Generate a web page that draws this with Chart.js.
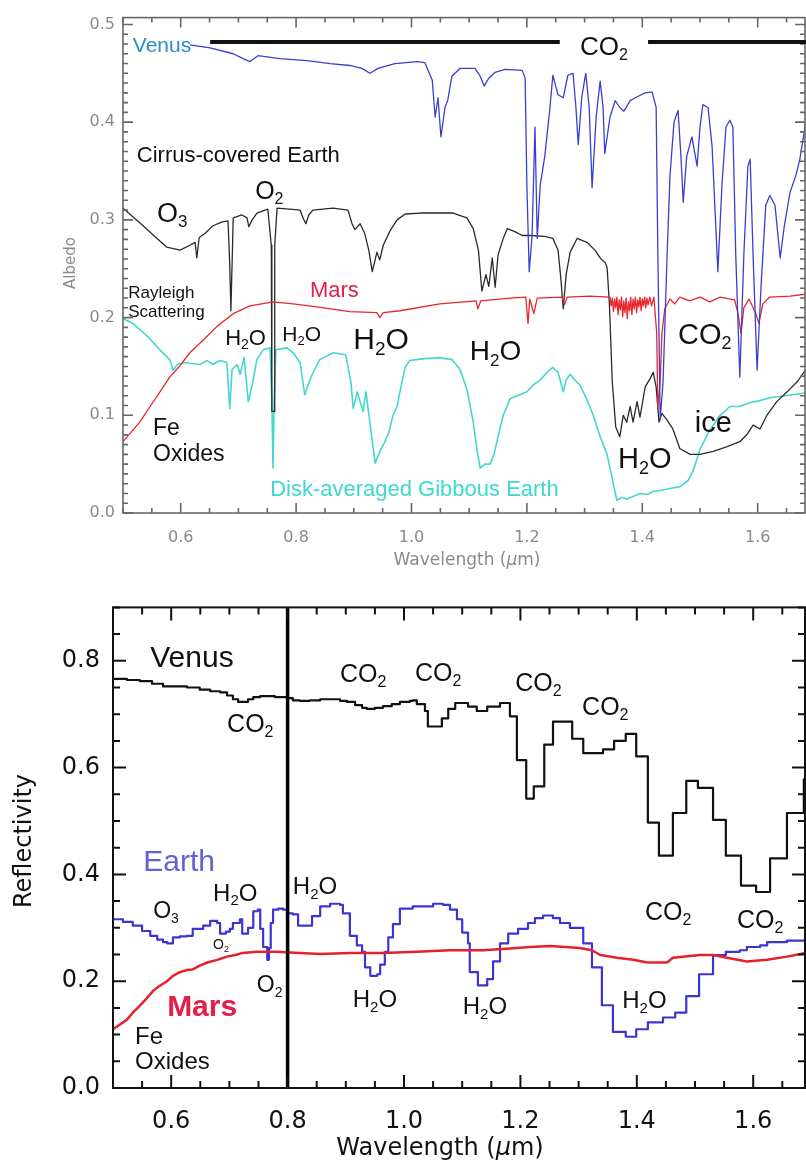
<!DOCTYPE html>
<html>
<head>
<meta charset="utf-8">
<script src="https://cdn.jsdelivr.net/npm/chart.js@4.4.0/dist/chart.umd.min.js"></script>
<style>
  html, body { margin: 0; padding: 0; background: #fff; }
  #wrap { position: relative; width: 806px; height: 1170px; overflow: hidden; }
  .panel { position: absolute; left: 0; width: 806px; }
</style>
</head>
<body>
<div id="wrap">
  <div class="panel" style="top:0;height:580px"><canvas id="topChart" width="806" height="580"></canvas></div>
  <div class="panel" style="top:580px;height:590px"><canvas id="lowChart" width="806" height="590"></canvas></div>
</div>
<script>
// ---- upper panel: high resolution albedo spectra, [wavelength um, albedo] ----
const venusTop = [[0.616,0.479],[0.628,0.478],[0.651,0.476],[0.691,0.470],[0.708,0.465],[0.720,0.462],[0.734,0.468],[0.772,0.465],[0.819,0.463],[0.859,0.460],[0.893,0.458],[0.914,0.455],[0.928,0.450],[0.942,0.455],[0.971,0.460],[1.010,0.462],[1.023,0.461],[1.036,0.443],[1.041,0.405],[1.046,0.425],[1.051,0.385],[1.058,0.415],[1.063,0.423],[1.070,0.447],[1.084,0.455],[1.110,0.455],[1.119,0.447],[1.126,0.437],[1.134,0.445],[1.145,0.451],[1.162,0.454],[1.192,0.453],[1.197,0.445],[1.200,0.335],[1.204,0.247],[1.209,0.284],[1.214,0.395],[1.218,0.281],[1.223,0.335],[1.231,0.365],[1.240,0.415],[1.245,0.448],[1.254,0.428],[1.263,0.425],[1.271,0.448],[1.280,0.450],[1.285,0.415],[1.289,0.377],[1.295,0.425],[1.302,0.450],[1.308,0.415],[1.313,0.333],[1.320,0.405],[1.327,0.442],[1.332,0.415],[1.335,0.368],[1.344,0.405],[1.353,0.422],[1.361,0.415],[1.368,0.411],[1.379,0.422],[1.391,0.426],[1.405,0.430],[1.417,0.431],[1.424,0.415],[1.427,0.264],[1.431,0.096],[1.436,0.134],[1.443,0.264],[1.448,0.345],[1.455,0.400],[1.462,0.412],[1.467,0.365],[1.471,0.318],[1.477,0.365],[1.486,0.385],[1.495,0.355],[1.500,0.395],[1.505,0.418],[1.514,0.415],[1.521,0.375],[1.531,0.247],[1.538,0.335],[1.545,0.395],[1.552,0.402],[1.557,0.395],[1.562,0.264],[1.569,0.139],[1.576,0.264],[1.583,0.355],[1.587,0.362],[1.592,0.264],[1.599,0.146],[1.606,0.234],[1.614,0.315],[1.621,0.325],[1.630,0.315],[1.639,0.261],[1.646,0.293],[1.656,0.328],[1.666,0.345],[1.673,0.362],[1.684,0.402]];

const cirrusEarthTop = [[0.500,0.312],[0.529,0.297],[0.559,0.281],[0.576,0.272],[0.599,0.269],[0.616,0.274],[0.625,0.277],[0.628,0.261],[0.632,0.282],[0.642,0.286],[0.656,0.294],[0.672,0.298],[0.682,0.299],[0.685,0.254],[0.687,0.207],[0.689,0.254],[0.691,0.302],[0.706,0.305],[0.715,0.302],[0.718,0.293],[0.724,0.300],[0.732,0.307],[0.751,0.311],[0.757,0.274],[0.758,0.104],[0.762,0.104],[0.763,0.274],[0.767,0.312],[0.789,0.311],[0.807,0.310],[0.812,0.302],[0.817,0.296],[0.822,0.305],[0.829,0.310],[0.864,0.312],[0.890,0.310],[0.897,0.296],[0.902,0.290],[0.911,0.296],[0.919,0.286],[0.926,0.269],[0.932,0.247],[0.937,0.259],[0.940,0.267],[0.945,0.259],[0.951,0.274],[0.963,0.289],[0.975,0.300],[0.989,0.306],[1.015,0.307],[1.072,0.307],[1.096,0.302],[1.107,0.291],[1.116,0.269],[1.122,0.227],[1.129,0.244],[1.134,0.232],[1.140,0.261],[1.145,0.231],[1.150,0.264],[1.159,0.281],[1.166,0.291],[1.179,0.288],[1.192,0.284],[1.205,0.284],[1.231,0.283],[1.245,0.281],[1.254,0.269],[1.259,0.239],[1.263,0.209],[1.268,0.244],[1.275,0.267],[1.287,0.281],[1.304,0.277],[1.318,0.269],[1.327,0.261],[1.336,0.256],[1.339,0.251],[1.343,0.214],[1.348,0.134],[1.354,0.088],[1.361,0.078],[1.367,0.100],[1.373,0.093],[1.379,0.109],[1.384,0.093],[1.391,0.114],[1.396,0.098],[1.405,0.129],[1.413,0.137],[1.419,0.144],[1.424,0.129],[1.429,0.093],[1.434,0.102],[1.443,0.095],[1.453,0.086],[1.465,0.066],[1.483,0.060],[1.500,0.060],[1.523,0.063],[1.547,0.068],[1.569,0.073],[1.581,0.080],[1.592,0.090],[1.604,0.086],[1.616,0.100],[1.633,0.114],[1.651,0.124],[1.668,0.134],[1.684,0.147]];

const marsTop = [[0.500,0.073],[0.529,0.093],[0.547,0.109],[0.564,0.124],[0.581,0.139],[0.599,0.151],[0.616,0.164],[0.639,0.177],[0.663,0.191],[0.691,0.204],[0.720,0.212],[0.760,0.216],[0.795,0.214],[0.836,0.211],[0.893,0.206],[0.940,0.205],[0.945,0.200],[0.951,0.205],[0.980,0.207],[1.049,0.214],[1.112,0.217],[1.115,0.209],[1.120,0.217],[1.171,0.220],[1.198,0.221],[1.202,0.194],[1.205,0.219],[1.212,0.204],[1.218,0.220],[1.261,0.221],[1.265,0.213],[1.270,0.221],[1.309,0.222],[1.344,0.221],[1.346,0.212],[1.348,0.220],[1.350,0.206],[1.352,0.219],[1.354,0.210],[1.356,0.221],[1.358,0.203],[1.360,0.218],[1.362,0.208],[1.364,0.221],[1.366,0.201],[1.368,0.217],[1.370,0.205],[1.372,0.220],[1.374,0.199],[1.376,0.216],[1.378,0.207],[1.380,0.221],[1.382,0.203],[1.384,0.219],[1.386,0.209],[1.388,0.221],[1.390,0.205],[1.392,0.218],[1.394,0.211],[1.396,0.221],[1.398,0.207],[1.400,0.219],[1.402,0.212],[1.404,0.221],[1.406,0.210],[1.408,0.220],[1.410,0.213],[1.413,0.221],[1.416,0.212],[1.420,0.221],[1.425,0.184],[1.427,0.107],[1.431,0.134],[1.434,0.184],[1.439,0.209],[1.448,0.219],[1.456,0.214],[1.465,0.221],[1.482,0.217],[1.500,0.221],[1.517,0.216],[1.535,0.221],[1.560,0.218],[1.566,0.204],[1.571,0.184],[1.576,0.210],[1.585,0.219],[1.597,0.204],[1.602,0.194],[1.609,0.214],[1.621,0.221],[1.656,0.222],[1.684,0.224]];

const gibbousEarthTop = [[0.500,0.199],[0.517,0.194],[0.542,0.181],[0.564,0.167],[0.581,0.157],[0.587,0.146],[0.594,0.152],[0.607,0.154],[0.633,0.152],[0.646,0.156],[0.656,0.152],[0.668,0.156],[0.680,0.154],[0.685,0.107],[0.689,0.147],[0.698,0.152],[0.703,0.142],[0.710,0.159],[0.717,0.114],[0.724,0.131],[0.732,0.157],[0.743,0.167],[0.755,0.169],[0.758,0.114],[0.760,0.046],[0.762,0.114],[0.765,0.167],[0.784,0.169],[0.795,0.164],[0.807,0.154],[0.815,0.121],[0.822,0.133],[0.828,0.142],[0.841,0.157],[0.864,0.164],[0.886,0.162],[0.895,0.134],[0.899,0.107],[0.906,0.124],[0.911,0.114],[0.916,0.104],[0.921,0.124],[0.930,0.083],[0.937,0.051],[0.945,0.063],[0.954,0.073],[0.961,0.083],[0.968,0.100],[0.975,0.109],[0.980,0.124],[0.989,0.149],[0.997,0.156],[1.023,0.158],[1.049,0.159],[1.070,0.157],[1.084,0.147],[1.096,0.127],[1.107,0.093],[1.114,0.063],[1.119,0.046],[1.127,0.050],[1.136,0.050],[1.143,0.060],[1.148,0.073],[1.159,0.100],[1.171,0.117],[1.179,0.119],[1.188,0.121],[1.200,0.124],[1.211,0.131],[1.223,0.136],[1.235,0.144],[1.245,0.149],[1.254,0.144],[1.263,0.124],[1.268,0.136],[1.275,0.142],[1.283,0.136],[1.292,0.131],[1.304,0.116],[1.315,0.100],[1.327,0.078],[1.339,0.060],[1.348,0.035],[1.356,0.013],[1.365,0.016],[1.373,0.014],[1.384,0.017],[1.396,0.020],[1.408,0.019],[1.419,0.022],[1.431,0.023],[1.448,0.025],[1.465,0.027],[1.479,0.033],[1.488,0.043],[1.500,0.065],[1.517,0.085],[1.535,0.100],[1.552,0.109],[1.569,0.109],[1.587,0.113],[1.604,0.115],[1.621,0.118],[1.647,0.120],[1.684,0.123]];

// ---- lower panel: binned reflectivity, [bin start um, reflectivity] ----
const venusLow = [[0.500,0.766],[0.524,0.764],[0.546,0.762],[0.567,0.757],[0.586,0.752],[0.607,0.752],[0.627,0.750],[0.649,0.746],[0.667,0.743],[0.684,0.741],[0.696,0.735],[0.706,0.728],[0.715,0.723],[0.723,0.723],[0.732,0.728],[0.741,0.732],[0.753,0.734],[0.765,0.734],[0.778,0.732],[0.799,0.730],[0.809,0.726],[0.821,0.725],[0.838,0.726],[0.856,0.728],[0.878,0.728],[0.890,0.725],[0.902,0.723],[0.916,0.717],[0.928,0.712],[0.936,0.710],[0.950,0.712],[0.964,0.715],[0.979,0.719],[0.993,0.723],[1.010,0.725],[1.015,0.726],[1.022,0.719],[1.036,0.706],[1.041,0.677],[1.065,0.692],[1.076,0.710],[1.088,0.721],[1.110,0.714],[1.125,0.706],[1.143,0.714],[1.165,0.721],[1.182,0.696],[1.194,0.614],[1.210,0.542],[1.223,0.565],[1.241,0.643],[1.256,0.686],[1.289,0.654],[1.308,0.627],[1.342,0.634],[1.361,0.650],[1.381,0.663],[1.399,0.621],[1.419,0.497],[1.438,0.435],[1.462,0.515],[1.485,0.575],[1.505,0.562],[1.531,0.502],[1.553,0.435],[1.579,0.379],[1.605,0.367],[1.629,0.430],[1.658,0.515],[1.687,0.578],[1.700,0.578]];

const earthLow = [[0.500,0.316],[0.517,0.311],[0.534,0.304],[0.550,0.294],[0.564,0.285],[0.576,0.278],[0.586,0.273],[0.593,0.271],[0.603,0.282],[0.615,0.284],[0.627,0.285],[0.637,0.298],[0.655,0.304],[0.667,0.313],[0.679,0.309],[0.684,0.289],[0.694,0.293],[0.701,0.298],[0.706,0.309],[0.718,0.316],[0.722,0.289],[0.732,0.300],[0.741,0.331],[0.749,0.334],[0.753,0.298],[0.758,0.264],[0.765,0.240],[0.768,0.262],[0.771,0.309],[0.775,0.334],[0.784,0.336],[0.792,0.334],[0.799,0.327],[0.809,0.325],[0.818,0.304],[0.830,0.304],[0.842,0.322],[0.856,0.340],[0.873,0.345],[0.890,0.343],[0.895,0.327],[0.907,0.285],[0.919,0.267],[0.928,0.255],[0.933,0.226],[0.942,0.210],[0.954,0.213],[0.959,0.231],[0.967,0.255],[0.973,0.282],[0.981,0.307],[0.993,0.336],[1.015,0.340],[1.050,0.345],[1.067,0.343],[1.079,0.334],[1.091,0.316],[1.100,0.291],[1.110,0.271],[1.113,0.217],[1.127,0.192],[1.143,0.204],[1.153,0.237],[1.165,0.271],[1.179,0.289],[1.196,0.298],[1.213,0.309],[1.225,0.318],[1.239,0.323],[1.256,0.318],[1.268,0.309],[1.285,0.300],[1.308,0.271],[1.323,0.226],[1.340,0.155],[1.359,0.105],[1.381,0.096],[1.399,0.110],[1.419,0.123],[1.445,0.132],[1.466,0.141],[1.485,0.172],[1.507,0.213],[1.531,0.249],[1.553,0.255],[1.577,0.258],[1.589,0.264],[1.612,0.267],[1.624,0.273],[1.658,0.276],[1.691,0.280],[1.700,0.280]];

const marsLow = [[0.500,0.110],[0.512,0.119],[0.524,0.128],[0.534,0.141],[0.546,0.154],[0.558,0.168],[0.569,0.182],[0.581,0.192],[0.593,0.200],[0.603,0.210],[0.615,0.217],[0.627,0.221],[0.637,0.222],[0.649,0.229],[0.662,0.235],[0.679,0.240],[0.696,0.246],[0.710,0.249],[0.723,0.253],[0.747,0.255],[0.782,0.255],[0.821,0.253],[0.856,0.251],[0.907,0.253],[0.964,0.253],[1.022,0.255],[1.079,0.258],[1.136,0.258],[1.194,0.262],[1.216,0.264],[1.251,0.266],[1.277,0.264],[1.302,0.262],[1.323,0.258],[1.337,0.249],[1.366,0.244],[1.394,0.240],[1.418,0.235],[1.452,0.235],[1.462,0.244],[1.509,0.249],[1.531,0.249],[1.555,0.244],[1.589,0.237],[1.624,0.240],[1.658,0.246],[1.691,0.253]];

// axis tick labels
const topXTicks = [0.6, 0.8, 1.0, 1.2, 1.4, 1.6];
const topYTicks = [0.0, 0.1, 0.2, 0.3, 0.4, 0.5];
const lowXTicks = [0.6, 0.8, 1.0, 1.2, 1.4, 1.6];
const lowYTicks = [0.0, 0.2, 0.4, 0.6, 0.8];

// Venus CO2 band bar (wavelength ranges) and the reference wavelength line
const co2Bar = [[0.651, 1.257], [1.410, 1.70]];
const co2BarLevel = 0.482;
const refWavelength = 0.8;

// band / planet labels: [text, wavelength, value, size, colour, weight]
const topNotes = [
  ['Venus', 0.517, 0.480, 21, '#2a8cd0', 'normal'],
  ['CO2', 1.292, 0.478, 26, '#111', 'normal'],
  ['Cirrus-covered Earth', 0.524, 0.367, 22, '#111', 'normal'],
  ['O3', 0.559, 0.308, 27, '#111', 'normal'],
  ['O2', 0.729, 0.331, 25, '#111', 'normal'],
  ['Rayleigh', 0.509, 0.226, 17, '#111', 'normal'],
  ['Scattering', 0.509, 0.207, 17, '#111', 'normal'],
  ['Mars', 0.824, 0.229, 22, '#e0204a', 'normal'],
  ['H2O', 0.677, 0.180, 22, '#111', 'normal'],
  ['H2O', 0.776, 0.184, 21, '#111', 'normal'],
  ['H2O', 0.899, 0.179, 30, '#111', 'normal'],
  ['H2O', 1.101, 0.167, 28, '#111', 'normal'],
  ['CO2', 1.462, 0.184, 29, '#111', 'normal'],
  ['ice', 1.491, 0.094, 29, '#111', 'normal'],
  ['H2O', 1.358, 0.057, 29, '#111', 'normal'],
  ['Fe', 0.552, 0.088, 23, '#111', 'normal'],
  ['Oxides', 0.552, 0.062, 23, '#111', 'normal'],
  ['Disk-averaged Gibbous Earth', 0.755, 0.025, 22, '#3dd9cc', 'normal']
];
const lowNotes = [
  ['Venus', 0.564, 0.808, 30, '#111', 'normal'],
  ['CO2', 0.696, 0.683, 25, '#111', 'normal'],
  ['CO2', 0.890, 0.777, 25, '#111', 'normal'],
  ['CO2', 1.019, 0.779, 25, '#111', 'normal'],
  ['CO2', 1.191, 0.761, 25, '#111', 'normal'],
  ['CO2', 1.306, 0.715, 25, '#111', 'normal'],
  ['Earth', 0.552, 0.426, 30, '#6262d8', 'normal'],
  ['H2O', 0.672, 0.367, 24, '#111', 'normal'],
  ['H2O', 0.809, 0.379, 24, '#111', 'normal'],
  ['O3', 0.569, 0.334, 23, '#111', 'normal'],
  ['O2', 0.672, 0.269, 14, '#111', 'normal'],
  ['O2', 0.747, 0.195, 23, '#111', 'normal'],
  ['Mars', 0.593, 0.155, 30, '#e3204a', 'bold'],
  ['Fe', 0.538, 0.099, 24, '#111', 'normal'],
  ['Oxides', 0.538, 0.051, 24, '#111', 'normal'],
  ['H2O', 0.912, 0.168, 24, '#111', 'normal'],
  ['H2O', 1.101, 0.154, 24, '#111', 'normal'],
  ['H2O', 1.375, 0.166, 24, '#111', 'normal'],
  ['CO2', 1.414, 0.331, 25, '#111', 'normal'],
  ['CO2', 1.572, 0.316, 25, '#111', 'normal']
];

const SANS = '"Liberation Sans", Arial, sans-serif';
const AXIS = '"DejaVu Sans", sans-serif';

const pts = arr => arr.map(([x, y]) => ({ x, y }));

// formula text with subscripted digits (H2O, CO2 ...), y is the cap-height centre
function chem(ctx, text, x, y, size, color, weight) {
  ctx.fillStyle = color;
  ctx.textAlign = 'left';
  ctx.textBaseline = 'alphabetic';
  const base = y + size * 0.36;
  let cx = x;
  for (const part of text.match(/\d+|\D+/g)) {
    const sub = /^\d+$/.test(part);
    ctx.font = `${weight} ${sub ? Math.round(size * 0.62) : size}px ${SANS}`;
    ctx.fillText(part, cx, sub ? base + size * 0.2 : base);
    cx += ctx.measureText(part).width;
  }
}

// "Wavelength (um)" with an italic mu
function wavelengthTitle(ctx, cx, cy, size, color) {
  const parts = [['Wavelength (', 'normal'], ['\u03bc', 'italic'], ['m)', 'normal']];
  let w = 0;
  parts.forEach(([t, st]) => { ctx.font = `${st} ${size}px ${AXIS}`; w += ctx.measureText(t).width; });
  let x = cx - w / 2;
  ctx.fillStyle = color;
  ctx.textAlign = 'left';
  ctx.textBaseline = 'middle';
  parts.forEach(([t, st]) => {
    ctx.font = `${st} ${size}px ${AXIS}`;
    ctx.fillText(t, x, cy);
    x += ctx.measureText(t).width;
  });
}

// closed frame with inward minor/major ticks on all four sides
function frameTicks(o) {
  return {
    id: 'frameTicks',
    afterDatasetsDraw(chart) {
      const { ctx, chartArea: a, scales: { x, y } } = chart;
      const each = (min, max, step, fn) => {
        for (let i = Math.ceil(min / step - 1e-6); i * step <= max + 1e-9; i++) fn(+(i * step).toFixed(4));
      };
      const major = (v, m) => Math.abs(v / m - Math.round(v / m)) < 1e-6;
      ctx.save();
      ctx.strokeStyle = o.color;
      ctx.lineWidth = o.width;
      ctx.strokeRect(a.left, a.top, a.right - a.left, a.bottom - a.top);
      ctx.beginPath();
      each(x.min, x.max, o.xMinor, v => {
        const px = x.getPixelForValue(v);
        const len = major(v, o.xMajor) ? o.major : o.minor;
        ctx.moveTo(px, a.bottom); ctx.lineTo(px, a.bottom - len);
        ctx.moveTo(px, a.top); ctx.lineTo(px, a.top + len);
      });
      each(y.min, y.max, o.yMinor, v => {
        const py = y.getPixelForValue(v);
        const len = major(v, o.yMajor) ? o.major : o.minor;
        ctx.moveTo(a.left, py); ctx.lineTo(a.left + len, py);
        ctx.moveTo(a.right, py); ctx.lineTo(a.right - len, py);
      });
      ctx.stroke();
      ctx.restore();
    }
  };
}

// labels, CO2 bar and axis titles
function annotations(notes, extra) {
  return {
    id: 'annotations',
    afterDatasetsDraw(chart) {
      const { ctx, scales: { x, y } } = chart;
      ctx.save();
      notes.forEach(([t, lx, ly, size, color, weight]) =>
        chem(ctx, t, x.getPixelForValue(lx), y.getPixelForValue(ly), size, color, weight));
      extra(ctx, x, y);
      ctx.restore();
    }
  };
}

const common = {
  responsive: false,
  animation: false,
  events: [],
  elements: { point: { radius: 0 }, line: { tension: 0, borderJoinStyle: 'round' } },
  plugins: { legend: { display: false }, tooltip: { enabled: false } }
};

function axis(min, max, ticks, size, color, pad, fit) {
  return {
    type: 'linear', min, max,
    grid: { display: false, drawTicks: false },
    border: { display: false },
    afterBuildTicks: s => { s.ticks = ticks.map(v => ({ value: v })); },
    afterFit: fit,
    ticks: {
      autoSkip: false, maxRotation: 0, padding: pad, color,
      font: { family: AXIS, size },
      callback: v => v.toFixed(1)
    }
  };
}

// ---------------- upper panel ----------------
new Chart(document.getElementById('topChart'), {
  type: 'line',
  data: {
    datasets: [
      { label: 'Venus', data: pts(venusTop), borderColor: '#3a3fcf', borderWidth: 1.3 },
      { label: 'Mars', data: pts(marsTop), borderColor: '#e8262c', borderWidth: 1.3 },
      { label: 'Cirrus-covered Earth', data: pts(cirrusEarthTop), borderColor: '#2a2a2a', borderWidth: 1.3 },
      { label: 'Disk-averaged Gibbous Earth', data: pts(gibbousEarthTop), borderColor: '#44d6cf', borderWidth: 1.6 }
    ]
  },
  options: {
    ...common,
    layout: { padding: { top: 8, right: 1, bottom: 0, left: 0 } },
    scales: {
      x: axis(0.5, 1.682, topXTicks, 16, '#8a8a8a', 15, s => { s.height = 67; }),
      y: axis(0, 0.507, topYTicks, 16, '#8a8a8a', 8, s => { s.width = 123; })
    }
  },
  plugins: [
    frameTicks({ color: '#666', width: 1.6, xMinor: 0.05, xMajor: 0.2, yMinor: 0.01, yMajor: 0.1, major: 10, minor: 5 }),
    annotations(topNotes, (ctx, x, y) => {
      ctx.strokeStyle = '#111';
      ctx.lineWidth = 4;
      ctx.beginPath();
      co2Bar.forEach(([a, b]) => {
        ctx.moveTo(x.getPixelForValue(a), y.getPixelForValue(co2BarLevel));
        ctx.lineTo(x.getPixelForValue(b), y.getPixelForValue(co2BarLevel));
      });
      ctx.stroke();
      wavelengthTitle(ctx, 467, 561, 17, '#8a8a8a');
      ctx.save();
      ctx.translate(71, 263);
      ctx.rotate(-Math.PI / 2);
      ctx.font = `15px ${AXIS}`;
      ctx.fillStyle = '#8a8a8a';
      ctx.textAlign = 'center';
      ctx.textBaseline = 'middle';
      ctx.fillText('Albedo', 0, 0);
      ctx.restore();
    })
  ]
});

// ---------------- lower panel ----------------
new Chart(document.getElementById('lowChart'), {
  type: 'line',
  data: {
    datasets: [
      { label: '0.8 um', data: [{ x: refWavelength, y: 0 }, { x: refWavelength, y: 0.9 }], borderColor: '#000', borderWidth: 3.5 },
      { label: 'Mars', data: pts(marsLow), borderColor: '#e8202a', borderWidth: 2.5 },
      { label: 'Earth', data: pts(earthLow), borderColor: '#3b34d4', borderWidth: 2.2, stepped: true },
      { label: 'Venus', data: pts(venusLow), borderColor: '#111', borderWidth: 2.2, stepped: true }
    ]
  },
  options: {
    ...common,
    layout: { padding: { top: 11, right: 1, bottom: 0, left: 0 } },
    scales: {
      x: axis(0.5, 1.689, lowXTicks, 24, '#111', 19, s => { s.height = 82; }),
      y: axis(0, 0.9, lowYTicks, 24, '#111', 13, s => { s.width = 113; })
    }
  },
  plugins: [
    frameTicks({ color: '#111', width: 2, xMinor: 0.05, xMajor: 0.2, yMinor: 0.05, yMajor: 0.2, major: 13, minor: 7 }),
    annotations(lowNotes, ctx => {
      wavelengthTitle(ctx, 440, 569, 24, '#111');
      ctx.save();
      ctx.translate(25, 261);
      ctx.rotate(-Math.PI / 2);
      ctx.font = `24px ${AXIS}`;
      ctx.fillStyle = '#111';
      ctx.textAlign = 'center';
      ctx.textBaseline = 'middle';
      ctx.fillText('Reflectivity', 0, 0);
      ctx.restore();
    })
  ]
});
</script>
</body>
</html>
